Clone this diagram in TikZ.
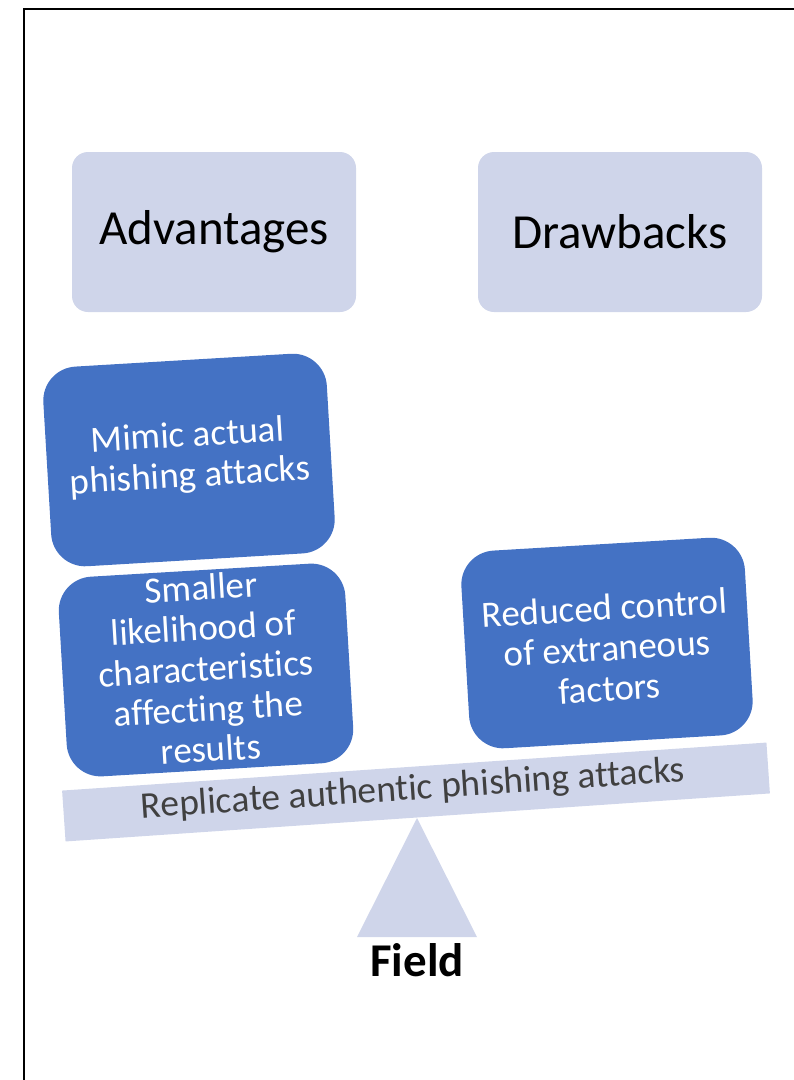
\documentclass[tikz,border=0pt]{standalone}
\usepackage{fontspec}
\setmainfont{Carlito}[Ligatures=NoCommon]
\definecolor{boxblue}{HTML}{4472C4}
\definecolor{paleblue}{HTML}{CFD5EA}
\definecolor{beamgray}{HTML}{404040}

\tikzset{
  headbox/.style={fill=paleblue, rounded corners=16pt, minimum width=284pt,
    minimum height=160pt, font=\fontsize{49}{58}\selectfont},
  bluebox/.style={fill=boxblue, rounded corners=34pt, minimum width=284pt,
    minimum height=200pt, rotate=3.4},
  bluetext/.style={text=white, align=center, rotate=3.4,
    font=\fontsize{37}{40.5}\selectfont},
  beam/.style={fill=paleblue, minimum width=706pt, minimum height=51pt,
    inner sep=0pt, rotate=3.9, text=beamgray, font=\fontsize{37.5}{44}\selectfont}
}

\begin{document}
\begin{tikzpicture}[x=1pt, y=-1pt]
    \useasboundingbox (0,0) rectangle (794,1080);
    % Frame
    \draw[line width=2.2pt] (24,1100) -- (24,9) -- (820,9);

    % Headings
    \node[headbox] (adv) at (214,232) {Advantages};
    \node[headbox] (drw) at (620,232) {Drawbacks};

    % Advantages
    \node[bluebox] (mimic) at (189,460) {};
    \node[bluetext] (mimictext) at (189,457) {Mimic actual\\phishing attacks};
    \node[bluebox, minimum width=287pt] (smaller) at (206,670) {};
    \node[bluetext] (smallertext) at (206,668) {Smaller\\likelihood of\\characteristics\\affecting the\\results};

    % Drawbacks
    \node[bluebox, minimum height=198pt] (reduced) at (607,643) {};
    \node[bluetext] (reducedtext) at (607,648) {Reduced control\\of extraneous\\factors};

    % Balance
    \coordinate (apex) at (417,818);
    \coordinate (baseR) at (477,937);
    \coordinate (baseL) at (357,937);
    \fill[paleblue] (apex) -- (baseR) -- (baseL) -- cycle;
    \node[beam] (bar) at (416,792) {};
    \node[beam, fill=none] (bartext) at (413,790) {Replicate authentic phishing attacks};
    \node[font=\bfseries\fontsize{47}{56}\selectfont] (field) at (417,960) {Field};
\end{tikzpicture}
\end{document}
